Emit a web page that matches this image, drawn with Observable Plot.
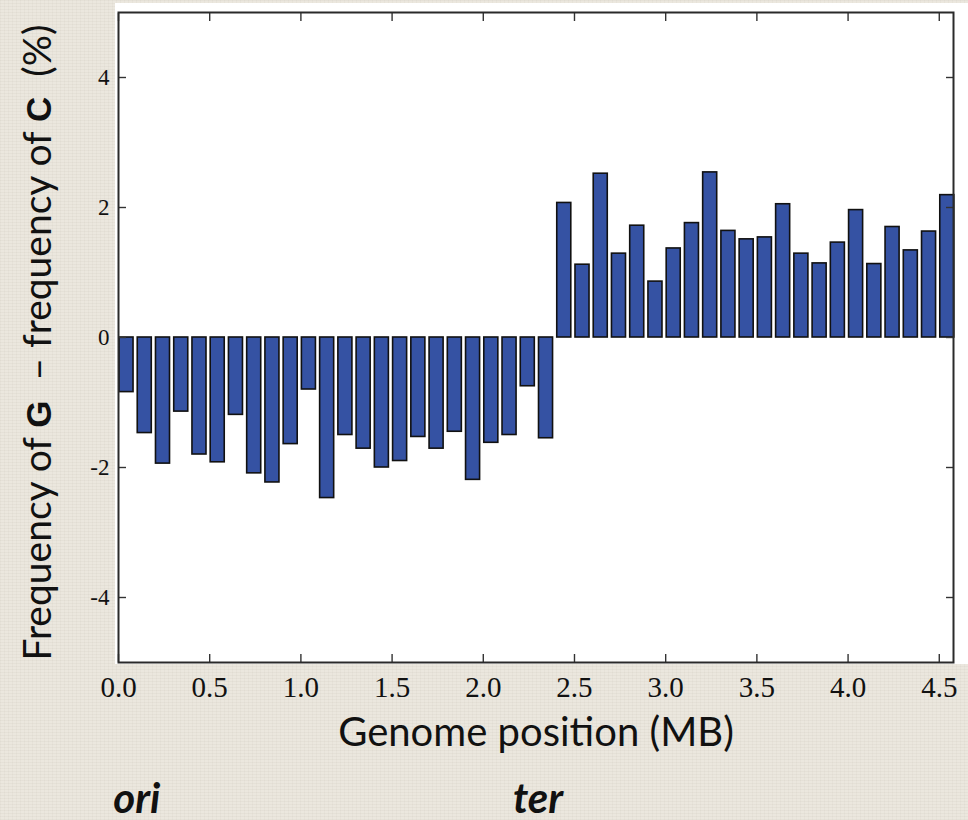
<!DOCTYPE html>
<html>
<head>
<meta charset="utf-8">
<script src="https://cdn.jsdelivr.net/npm/d3@7"></script>
<script src="https://cdn.jsdelivr.net/npm/@observablehq/plot@0.6"></script>
<style>
  html, body { margin: 0; padding: 0; }
  body {
    width: 968px; height: 820px; overflow: hidden;
    background-color: #ebe7de;
    background-image:
      repeating-linear-gradient(0deg, rgba(120,110,90,0.05) 0px, rgba(120,110,90,0.05) 1px, transparent 1px, transparent 3px),
      repeating-linear-gradient(90deg, rgba(120,110,90,0.04) 0px, rgba(120,110,90,0.04) 1px, transparent 1px, transparent 4px);
  }
  #wrap { position: relative; width: 968px; height: 820px; }
  #panel { position: absolute; left: 115px; top: 3px; width: 853px; height: 661px; background: #fff; }
  #chart { position: absolute; left: 0; top: 0; }
</style>
</head>
<body>
<div id="wrap"><div id="panel"></div><div id="chart"></div></div>
<script>
// Bin start positions (MB), 0.1 MB bins
const binStart = [0.0, 0.1, 0.2, 0.3, 0.4, 0.5, 0.6, 0.7, 0.8, 0.9,
                  1.0, 1.1, 1.2, 1.3, 1.4, 1.5, 1.6, 1.7, 1.8, 1.9,
                  2.0, 2.1, 2.2, 2.3, 2.4, 2.5, 2.6, 2.7, 2.8, 2.9,
                  3.0, 3.1, 3.2, 3.3, 3.4, 3.5, 3.6, 3.7, 3.8, 3.9,
                  4.0, 4.1, 4.2, 4.3, 4.4, 4.5];
// G - C frequency (%)
const gcSkew = [-0.84, -1.47, -1.94, -1.14, -1.80, -1.92, -1.19, -2.09, -2.23, -1.64,
                -0.80, -2.47, -1.50, -1.71, -2.00, -1.90, -1.53, -1.71, -1.45, -2.19,
                -1.62, -1.50, -0.75, -1.55,
                 2.07, 1.12, 2.52, 1.29, 1.72, 0.86, 1.37, 1.76, 2.54, 1.64,
                 1.51, 1.54, 2.05, 1.29, 1.14, 1.46, 1.96, 1.13, 1.70, 1.34,
                 1.63, 2.19];
const binWidth = 0.1;
const xTicks = [0, 0.5, 1, 1.5, 2, 2.5, 3, 3.5, 4, 4.5];
const yTicks = [-4, -2, 0, 2, 4];
const xLabel = "Genome position (MB)";
const yLabel = "Frequency of G  \u2013 frequency of C  (%)";
const yLabelParts = [["Frequency of ", false], ["G", true], ["  \u2013 frequency of ", false], ["C", true], ["  (%)", false]];
const markerLabels = ["ori", "ter"];
const markerPos = [0.1, 2.3];

const bars = binStart.map((s, i) => ({start: s, end: s + binWidth, value: gcSkew[i]}));
const markers = markerLabels.map((l, i) => ({label: l, pos: markerPos[i]}));

const ink = "#111";
const plot = Plot.plot({
  width: 968,
  height: 820,
  marginLeft: 118,
  marginRight: 15,
  marginTop: 12,
  marginBottom: 158,
  style: {background: "transparent", overflow: "visible"},
  x: {domain: [0, 4.578]},
  y: {domain: [-5, 5]},
  marks: [
    Plot.rectY(bars, {x1: "start", x2: "end", y1: 0, y2: "value",
      fill: "#3552a3", stroke: "#111", strokeWidth: 1.6, insetLeft: 1, insetRight: 3.2}),
    Plot.axisX({ticks: xTicks, anchor: "bottom", tickSize: -8, tickPadding: 22,
      tickFormat: d => d.toFixed(1), fontSize: 29, fontFamily: "Liberation Serif",
      fill: ink, stroke: "#333", strokeWidth: 1.4, label: null}),
    Plot.axisX({ticks: xTicks, anchor: "top", tickSize: -8, tickFormat: () => "",
      stroke: "#333", strokeWidth: 1.4, label: null}),
    Plot.axisY({ticks: yTicks, anchor: "left", tickSize: -8, tickPadding: 17,
      tickFormat: d => String(d), fontSize: 23, fontFamily: "Liberation Serif",
      fill: ink, stroke: "#333", strokeWidth: 1.4, label: null}),
    Plot.axisY({ticks: yTicks, anchor: "right", tickSize: -8, tickFormat: () => "",
      stroke: "#333", strokeWidth: 1.4, label: null}),
    Plot.frame({stroke: "#2a2a2a", strokeWidth: 2}),
    Plot.text([xLabel], {frameAnchor: "bottom", dy: 71, lineAnchor: "middle",
      fontSize: 40, fontFamily: "Lato", fill: ink}),
    Plot.text([yLabel], {frameAnchor: "left", dx: -80, dy: 5, rotate: -90, lineAnchor: "middle",
      fontSize: 39, fontFamily: "Lato", fill: ink}),
    Plot.text(markers, {x: "pos", text: "label", frameAnchor: "bottom", dy: 137, lineAnchor: "middle",
      fontSize: 42, fontWeight: "bold", fontStyle: "italic", fontFamily: "Lato", fill: ink})
  ]
});

d3.select(plot).selectAll("text").filter(function() { return this.textContent === yLabel; })
  .each(function() {
    const t = d3.select(this);
    t.text(null).style("white-space", "pre").attr("text-anchor", "middle");
    yLabelParts.forEach(([s, b]) => {
      const sp = t.append("tspan").text(s);
      if (b) sp.attr("font-weight", "bold").attr("font-family", "Liberation Sans").attr("font-size", 35);
    });
  });

document.getElementById("chart").appendChild(plot);
</script>
</body>
</html>
